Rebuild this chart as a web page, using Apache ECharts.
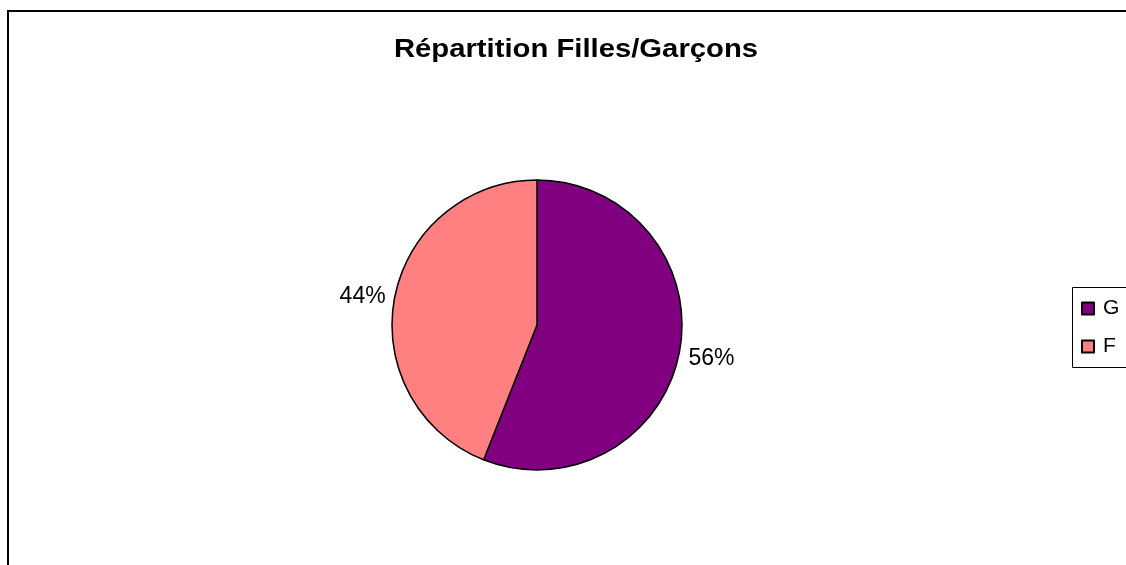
<!DOCTYPE html>
<html>
<head>
<meta charset="utf-8">
<script src="https://cdn.jsdelivr.net/npm/echarts@6/dist/echarts.min.js"></script>
<style>
  html, body { margin: 0; padding: 0; background: #fff; }
  #chart { width: 1126px; height: 565px; }
</style>
</head>
<body>
<div id="chart"></div>
<script>
// Girls / boys split
const titleText = 'Répartition Filles/Garçons';
const categories = ['G', 'F'];
const shares = [56, 44];
const colors = ['#800080', '#FF8080'];
// vertical nudge of each percentage label
const labelDy = [6, -1];

const chart = echarts.init(document.getElementById('chart'), null, { renderer: 'canvas' });
const font = '"Liberation Sans", Arial, sans-serif';

chart.setOption({
  animation: false,
  backgroundColor: '#fff',
  legend: {
    orient: 'vertical',
    left: 1076,
    top: 293,
    itemWidth: 12,
    itemHeight: 12,
    itemGap: 17,
    icon: 'rect',
    data: categories,
    textStyle: { fontFamily: font, fontSize: 21, color: '#000', padding: [0, 0, 0, 4] }
  },
  graphic: [
    {
      // chart title, drawn slightly widened
      type: 'text',
      x: 576,
      y: 50,
      scaleX: 1.17,
      style: {
        text: titleText,
        fontFamily: font,
        fontSize: 25,
        fontWeight: 'bold',
        fill: '#000',
        align: 'center',
        verticalAlign: 'middle'
      },
      z: 10
    },
    {
      type: 'rect',
      shape: { x: 8, y: 11, width: 1130, height: 570 },
      style: { fill: 'none', stroke: '#000', lineWidth: 2 },
      z: 10
    },
    {
      type: 'rect',
      shape: { x: 1072.5, y: 287.5, width: 80, height: 80 },
      style: { fill: 'none', stroke: '#000', lineWidth: 1 },
      z: 10
    }
  ],
  series: [{
    type: 'pie',
    center: [537, 325],
    radius: [0, 145],
    startAngle: 90,
    clockwise: true,
    avoidLabelOverlap: false,
    itemStyle: { borderColor: '#000', borderWidth: 1.5 },
    label: {
      show: true,
      position: 'outside',
      formatter: p => p.value + '%',
      fontFamily: font,
      fontSize: 23,
      color: '#000'
    },
    labelLine: { show: false, length: 3, length2: 1 },
    labelLayout: p => ({ dy: labelDy[p.dataIndex] }),
    emphasis: { disabled: true },
    data: categories.map((c, i) => ({
      name: c,
      value: shares[i],
      itemStyle: { color: colors[i] }
    }))
  }]
});
</script>
</body>
</html>
